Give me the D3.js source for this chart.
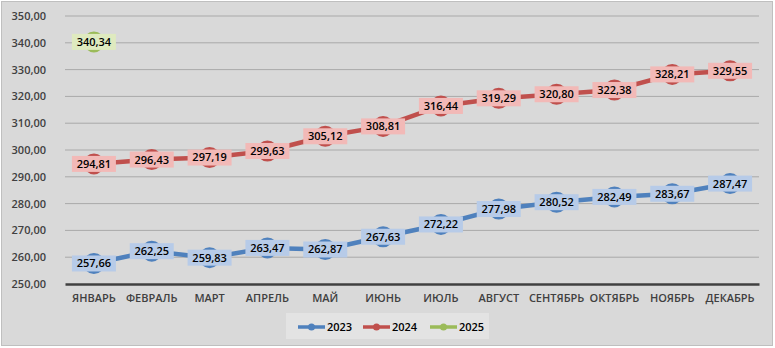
<!DOCTYPE html>
<html><head><meta charset="utf-8">
<script src="https://cdn.jsdelivr.net/npm/d3@7/dist/d3.min.js"></script>
<style>
html,body{margin:0;padding:0;background:#fff;}
svg{display:block;}
text{font-family:"Open Sans","Noto Sans",sans-serif;}
</style></head>
<body>
<svg id="chart" width="775" height="348"></svg>
<script>
const months = ["ЯНВАРЬ","ФЕВРАЛЬ","МАРТ","АПРЕЛЬ","МАЙ","ИЮНЬ","ИЮЛЬ","АВГУСТ","СЕНТЯБРЬ","ОКТЯБРЬ","НОЯБРЬ","ДЕКАБРЬ"];
const values2023 = [257.66,262.25,259.83,263.47,262.87,267.63,272.22,277.98,280.52,282.49,283.67,287.47];
const values2024 = [294.81,296.43,297.19,299.63,305.12,308.81,316.44,319.29,320.80,322.38,328.21,329.55];
const values2025 = [340.34];
const seriesNames = ["2023","2024","2025"];
const yTicks = [250,260,270,280,290,300,310,320,330,340,350];

const colors = {"2023":"#4f81bd","2024":"#c0504d","2025":"#9bbb59"};
const labelFill = {"2023":"#b7cbe8","2024":"#f2b9b7","2025":"#dfeabf"};

const series = [
  {name:"2023", values:values2023},
  {name:"2024", values:values2024},
  {name:"2025", values:values2025}
];

const svg = d3.select("#chart");
svg.append("rect").attr("x",1.5).attr("y",1.5).attr("width",771).attr("height",344)
  .attr("fill","#d9d9d9").attr("stroke","#bfbfbf").attr("stroke-width",1);

const x = d3.scaleBand().domain(months).range([65,759]);
const y = d3.scaleLinear().domain([250,350]).range([284,16]);
const fmt = v => d3.format(".2f")(v).replace(".",",");

// gridlines
svg.append("g").selectAll("line").data(yTicks.filter(t=>t>250)).join("line")
  .attr("x1",65).attr("x2",759).attr("y1",d=>y(d)).attr("y2",d=>y(d))
  .attr("stroke","#a9a9a9").attr("stroke-width",1);

// y axis labels
const yAxis = svg.append("g").attr("transform","translate(46,0)")
  .call(d3.axisLeft(y).tickValues(yTicks).tickFormat(fmt).tickSize(0).tickPadding(0));
yAxis.select(".domain").remove();
yAxis.selectAll("text").attr("font-size",11).attr("font-weight",600).attr("fill","#404040");

// x axis
const xAxis = svg.append("g").attr("transform","translate(0,284)")
  .call(d3.axisBottom(x).tickSize(0).tickPadding(10));
xAxis.select(".domain").attr("stroke","#404040").attr("stroke-width",2.5);
xAxis.selectAll("text").attr("font-size",11).attr("font-weight",600).attr("fill","#404040");

const cx = (i) => x(months[i]) + x.bandwidth()/2;
const line = d3.line().x((d,i)=>cx(i)).y(d=>y(d));

series.forEach(s=>{
  svg.append("path").datum(s.values).attr("d",line).attr("fill","none")
    .attr("stroke",colors[s.name]).attr("stroke-width",4.5).attr("stroke-linejoin","round");
  svg.append("g").selectAll("circle").data(s.values).join("circle")
    .attr("cx",(d,i)=>cx(i)).attr("cy",d=>y(d)).attr("r",10.5).attr("fill",colors[s.name]);
});

series.forEach(s=>{
  const g = svg.append("g").selectAll("g").data(s.values).join("g")
    .attr("transform",(d,i)=>`translate(${cx(i)},${y(d)})`);
  g.append("rect").attr("x",-22).attr("y",-8).attr("width",44).attr("height",16).attr("fill",labelFill[s.name]);
  g.append("text").attr("text-anchor","middle").attr("dy","0.36em")
    .attr("font-size",11).attr("font-weight",600).attr("fill","#000").text(d=>fmt(d));
});

// legend
const lg = svg.append("g");
lg.append("rect").attr("x",286).attr("y",313).attr("width",203).attr("height",26).attr("fill","#e3e3e3");
const legendX = [298,363,430];
seriesNames.forEach((n,i)=>{
  const gx = legendX[i], gy = 327;
  lg.append("line").attr("x1",gx).attr("x2",gx+27).attr("y1",gy).attr("y2",gy)
    .attr("stroke",colors[n]).attr("stroke-width",3.5);
  lg.append("circle").attr("cx",gx+13.5).attr("cy",gy).attr("r",3.5).attr("fill",colors[n]);
  lg.append("text").attr("x",gx+29).attr("y",gy).attr("dy","0.36em")
    .attr("font-size",11).attr("font-weight",600).attr("fill","#000").text(n);
});
</script>
</body></html>
